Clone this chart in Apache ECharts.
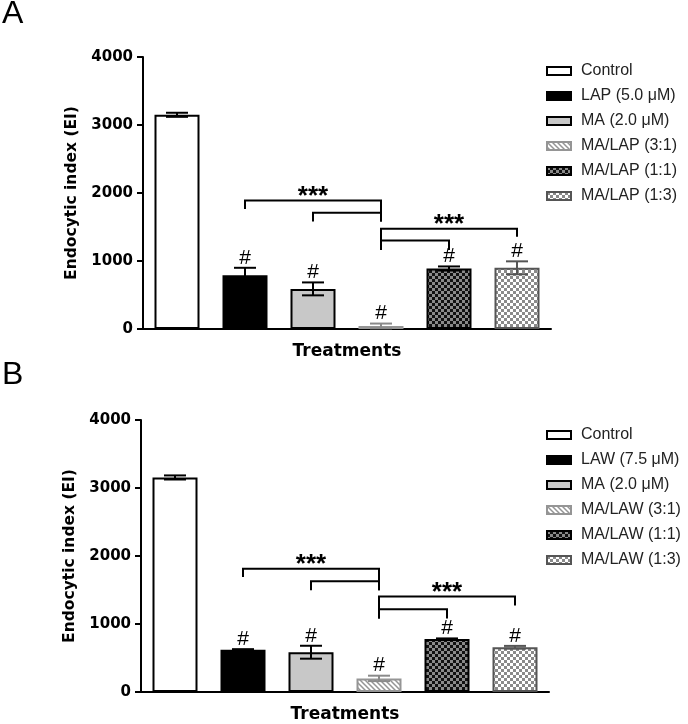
<!DOCTYPE html>
<html>
<head>
<meta charset="utf-8">
<script src="https://cdn.jsdelivr.net/npm/echarts@6/dist/echarts.min.js"></script>
<style>
html,body{margin:0;padding:0;background:#fff;}
#chart{width:688px;height:724px;}
</style>
</head>
<body>
<div id="chart"></div>
<script>
// ---------- data ----------
const categoriesA = ['Control', 'LAP (5.0 \u03bcM)', 'MA (2.0 \u03bcM)', 'MA/LAP (3:1)', 'MA/LAP (1:1)', 'MA/LAP (1:3)'];
const meansA = [3150, 790, 590, 45, 890, 900];
const errorsA = [30, 110, 95, 35, 30, 95];
const marksA = ['', '#', '#', '#', '#', '#'];
// [fromIndex, toIndex, level, leftLegEnd, rightLegEnd]
const bracketsA = [[1, 3, 1890, 1765, 1580], [2, 3, 1710, 1580, 1580], [3, 5, 1475, 1160, 1355], [3, 4, 1300, 1160, 1160]];
const bracketLabelsA = ['***', '', '***', ''];

const categoriesB = ['Control', 'LAW (7.5 \u03bcM)', 'MA (2.0 \u03bcM)', 'MA/LAW (3:1)', 'MA/LAW (1:1)', 'MA/LAW (1:3)'];
const meansB = [3155, 622, 585, 200, 780, 658];
const errorsB = [30, 8, 95, 40, 8, 20];
const marksB = ['', '#', '#', '#', '#', '#'];
const bracketsB = [[1, 3, 1811, 1690, 1498], [2, 3, 1630, 1498, 1498], [3, 5, 1405, 1081, 1272], [3, 4, 1218, 1081, 1081]];
const bracketLabelsB = ['***', '', '***', ''];

const yTicks = [0, 1000, 2000, 3000, 4000];
const panelLabels = ['A', 'B'];
const xAxisName = 'Treatments';
const yAxisName = 'Endocytic index (EI)';

// ---------- styles ----------
function checker(c1, c2, s) {
  const cv = document.createElement('canvas');
  cv.width = cv.height = 2 * s;
  const ctx = cv.getContext('2d');
  ctx.fillStyle = c1; ctx.fillRect(0, 0, 2 * s, 2 * s);
  ctx.fillStyle = c2; ctx.fillRect(0, 0, s, s); ctx.fillRect(s, s, s, s);
  return { image: cv, repeat: 'repeat' };
}
function hatch(bg, fg, s) {
  const cv = document.createElement('canvas');
  cv.width = cv.height = s;
  const ctx = cv.getContext('2d');
  ctx.fillStyle = bg; ctx.fillRect(0, 0, s, s);
  ctx.strokeStyle = fg; ctx.lineWidth = 1.5;
  ctx.beginPath();
  ctx.moveTo(0, 0); ctx.lineTo(s, s);
  ctx.moveTo(-2, s - 2); ctx.lineTo(2, s + 2);
  ctx.moveTo(s - 2, -2); ctx.lineTo(s + 2, 2);
  ctx.stroke();
  return { image: cv, repeat: 'repeat' };
}
const barStyles = [
  { color: '#ffffff', borderColor: '#000', borderWidth: 2 },
  { color: '#000000', borderColor: '#000', borderWidth: 2 },
  { color: '#c8c8c8', borderColor: '#000', borderWidth: 2 },
  { color: hatch('#ffffff', '#959595', 5), borderColor: '#959595', borderWidth: 2 },
  { color: checker('#111111', '#8a8a8a', 3), borderColor: '#000', borderWidth: 2 },
  { color: checker('#ffffff', '#8a8a8a', 3), borderColor: '#555', borderWidth: 2 }
];
const errColors = ['#000', '#000', '#000', '#8a8a8a', '#000', '#555'];

const grids = [
  { left: 143, top: 57, width: 408, height: 272 },
  { left: 141, top: 420, width: 408, height: 272 }
];
const legendTops = [63, 427];
const panelLabelY = [14, 375];

const axisFont = 'DejaVu Sans';

function barSeries(cats, means, k) {
  return cats.map((name, i) => ({
    type: 'bar', name: name, xAxisIndex: k, yAxisIndex: k,
    barWidth: 45, barGap: '-100%', z: 2,
    data: means.map((v, j) => (j === i ? v : '-')),
    itemStyle: barStyles[i]
  }));
}
function errSeries(means, errs, marks, k) {
  return {
    type: 'custom', xAxisIndex: k, yAxisIndex: k, z: 5, silent: true,
    encode: { x: 0, y: 1 },
    data: means.map((m, i) => [i, m, errs[i]]),
    renderItem: function (params, api) {
      const i = api.value(0), m = api.value(1), e = api.value(2);
      const top = api.coord([i, m + e]);
      const bot = api.coord([i, m - e]);
      const c = errColors[i];
      const hw = 11;
      const ls = { stroke: c, lineWidth: 2 };
      const kids = [
        { type: 'line', shape: { x1: top[0], y1: top[1], x2: bot[0], y2: bot[1] }, style: ls },
        { type: 'line', shape: { x1: top[0] - hw, y1: top[1], x2: top[0] + hw, y2: top[1] }, style: ls },
        { type: 'line', shape: { x1: bot[0] - hw, y1: bot[1], x2: bot[0] + hw, y2: bot[1] }, style: ls }
      ];
      if (marks[i]) {
        kids.push({ type: 'text', style: { text: marks[i], x: top[0], y: top[1] - 10,
          textAlign: 'center', textVerticalAlign: 'middle', align: 'center', verticalAlign: 'middle',
          font: '21px "Liberation Sans", Arial, sans-serif', fill: '#000' } });
      }
      return { type: 'group', children: kids };
    }
  };
}
function bracketSeries(brackets, labels, k) {
  return {
    type: 'custom', xAxisIndex: k, yAxisIndex: k, z: 6, silent: true,
    encode: { x: 0, y: 2 },
    data: brackets,
    renderItem: function (params, api) {
      const a = api.value(0), b = api.value(1), lv = api.value(2), la = api.value(3), lb = api.value(4);
      const p1 = api.coord([a, la]), p2 = api.coord([a, lv]), p3 = api.coord([b, lv]), p4 = api.coord([b, lb]);
      const kids = [
        { type: 'polyline', shape: { points: [p1, p2, p3, p4] }, style: { stroke: '#000', lineWidth: 2, fill: null } }
      ];
      const lab = labels[params.dataIndex];
      if (lab) {
        kids.push({ type: 'text', style: { text: lab, x: (p2[0] + p3[0]) / 2, y: p2[1] - 4,
          textAlign: 'center', textVerticalAlign: 'middle', align: 'center', verticalAlign: 'middle',
          font: 'bold 26px "Liberation Sans", Arial, sans-serif', fill: '#000' } });
      }
      return { type: 'group', children: kids };
    }
  };
}
function xAxisFor(cats, k) {
  return {
    type: 'category', gridIndex: k, data: cats,
    name: xAxisName, nameLocation: 'middle', nameGap: 14,
    nameTextStyle: { fontFamily: axisFont, fontWeight: 'bold', fontSize: 17, color: '#000' },
    axisLine: { lineStyle: { color: '#000', width: 2 } },
    axisTick: { alignWithLabel: true, length: 5, lineStyle: { color: '#000', width: 2 } },
    axisLabel: { show: false }
  };
}
function yAxisFor(k) {
  return {
    type: 'value', gridIndex: k, min: yTicks[0], max: yTicks[yTicks.length - 1], interval: yTicks[1] - yTicks[0],
    name: yAxisName, nameLocation: 'middle', nameGap: 55, nameRotate: 90,
    nameTextStyle: { fontFamily: axisFont, fontWeight: 'bold', fontSize: 15.5, color: '#000' },
    axisLine: { show: true, lineStyle: { color: '#000', width: 2 } },
    axisTick: { show: true, length: 6, lineStyle: { color: '#000', width: 2 } },
    axisLabel: { margin: 10, fontFamily: axisFont, fontWeight: 'bold', fontSize: 15, color: '#000',
      formatter: function (v) { return String(v); } },
    splitLine: { show: false }
  };
}
function legendFor(cats, k) {
  return {
    data: cats, orient: 'vertical', left: 546, top: legendTops[k], padding: 0,
    itemWidth: 24, itemHeight: 8, itemGap: 9, icon: 'rect', selectedMode: false,
    textStyle: { fontFamily: 'Liberation Sans', fontSize: 16, color: '#222', lineHeight: 14, padding: [0, 0, 0, 5] }
  };
}

const option = {
  animation: false,
  backgroundColor: '#fff',
  grid: grids,
  xAxis: [xAxisFor(categoriesA, 0), xAxisFor(categoriesB, 1)],
  yAxis: [yAxisFor(0), yAxisFor(1)],
  legend: [legendFor(categoriesA, 0), legendFor(categoriesB, 1)],
  graphic: panelLabels.map((t, k) => ({
    type: 'text', left: 2, top: panelLabelY[k] - 16,
    style: { text: t, font: '32px "Liberation Sans"', fill: '#000' }
  })),
  series: [].concat(
    barSeries(categoriesA, meansA, 0),
    [errSeries(meansA, errorsA, marksA, 0), bracketSeries(bracketsA, bracketLabelsA, 0)],
    barSeries(categoriesB, meansB, 1),
    [errSeries(meansB, errorsB, marksB, 1), bracketSeries(bracketsB, bracketLabelsB, 1)]
  )
};
const chart = echarts.init(document.getElementById('chart'), null, { renderer: 'canvas' });
chart.setOption(option);
</script>
</body>
</html>
